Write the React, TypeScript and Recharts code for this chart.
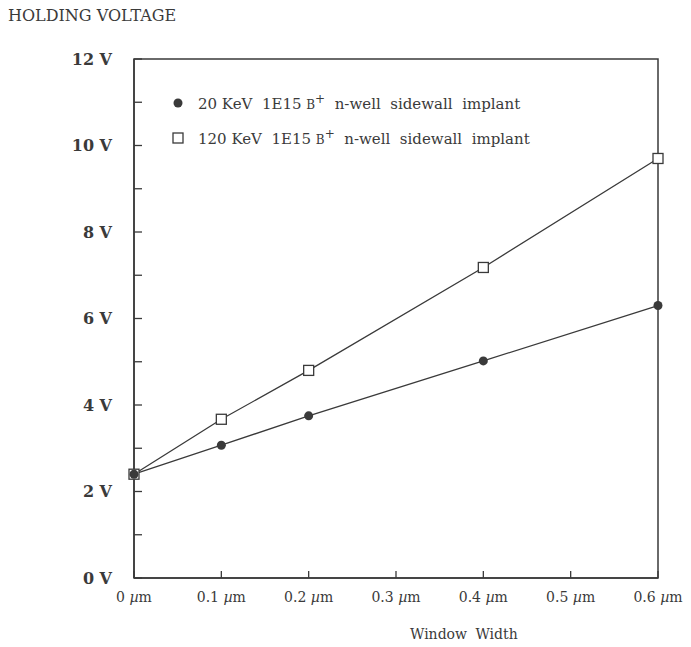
import React from 'react';
import { LineChart, Line, XAxis, YAxis, ReferenceArea } from 'recharts';

// window width in µm
const windowWidth = [0, 0.1, 0.2, 0.4, 0.6];
// holding voltage, 20 KeV implant (filled circles)
const lowEnergy = [2.4, 3.07, 3.75, 5.02, 6.3];
// holding voltage, 120 KeV implant (open squares)
const highEnergy = [2.4, 3.67, 4.8, 7.18, 9.7];

const xTicks = [0, 0.1, 0.2, 0.3, 0.4, 0.5, 0.6];
const yTicks = [0, 1, 2, 3, 4, 5, 6, 7, 8, 9, 10, 11, 12];

const legendItems = [
  { energy: '20 KeV', marker: 'circle' },
  { energy: '120 KeV', marker: 'square' },
];

const data = windowWidth.map((w, i) => ({
  w,
  low: lowEnergy[i],
  high: highEnergy[i],
}));

const INK = '#3a3a3a';
const FONT = '"DejaVu Serif", "Liberation Serif", serif';

const XTick = (props: any) => {
  const { x, y, payload } = props;
  return (
    <text x={x} y={y} dy="0.71em" textAnchor="middle" fontFamily={FONT} fontSize={14} fill={INK}>
      {payload.value} <tspan fontStyle="italic">µ</tspan>m
    </text>
  );
};

const SquareDot = (props: any) => {
  const { cx, cy, index } = props;
  return (
    <rect key={`sq-${index}`} x={cx - 5} y={cy - 5} width={10} height={10} fill="#fff" stroke={INK} strokeWidth={1.3} />
  );
};

const CircleDot = (props: any) => {
  const { cx, cy, index } = props;
  return <circle key={`ci-${index}`} cx={cx} cy={cy} r={4.5} fill={INK} stroke="none" />;
};

// legend kept outside the chart so it doesn't eat into the plot area
const LegendBox = () => (
  <div style={{ position: 'absolute', left: 171, top: 85, fontFamily: FONT, fontSize: 15, color: INK }}>
    {legendItems.map((item) => (
      <div key={item.energy} style={{ display: 'flex', alignItems: 'center', height: 35 }}>
        <svg width={14} height={14} style={{ marginRight: 13 }}>
          {item.marker === 'circle' ? (
            <circle cx={7} cy={7} r={4.5} fill={INK} />
          ) : (
            <rect x={2} y={2} width={10} height={10} fill="#fff" stroke={INK} strokeWidth={1.3} />
          )}
        </svg>
        <span style={{ whiteSpace: 'pre' }}>
          {item.energy}  1E15 <span style={{ fontSize: 12 }}>B</span>
          <sup style={{ fontSize: 12 }}>+</sup>  n-well  sidewall  implant
        </span>
      </div>
    ))}
  </div>
);

export default function App() {
  return (
    <div style={{ position: 'absolute', left: 0, top: 0, width: 691, height: 647, background: '#fff' }}>
      <div style={{ position: 'absolute', left: 8, top: 6, fontFamily: FONT, fontSize: 16, color: INK }}>
        HOLDING VOLTAGE
      </div>
      <div style={{ position: 'absolute', left: 410, top: 626, fontFamily: FONT, fontSize: 14, color: INK, wordSpacing: 4 }}>
        Window Width
      </div>
      <LineChart width={691} height={647} data={data} margin={{ top: 59, right: 33, bottom: 39, left: 74 }}>
        <XAxis
          dataKey="w"
          type="number"
          domain={[0, 0.6]}
          ticks={xTicks}
          interval={0}
          height={30}
          axisLine={{ stroke: INK, strokeWidth: 1.5 }}
          tickLine={{ stroke: INK, strokeWidth: 1.3 }}
          tickSize={-7}
          tickMargin={21}
          tick={<XTick />}
        />
        <YAxis
          type="number"
          domain={[0, 12]}
          ticks={yTicks}
          interval={0}
          width={60}
          axisLine={{ stroke: INK, strokeWidth: 1.5 }}
          tickLine={{ stroke: INK, strokeWidth: 1.3 }}
          tickSize={-8}
          tickMargin={30}
          tickFormatter={(v: number) => (v % 2 === 0 ? `${v} V` : '')}
          tick={{ fontFamily: FONT, fontSize: 16, fontWeight: 'bold', fill: INK }}
        />
        <ReferenceArea x1={0} x2={0.6} y1={0} y2={12} fill="none" stroke={INK} strokeWidth={1.5} ifOverflow="visible" />
        <Line
          dataKey="high"
          type="linear"
          stroke={INK}
          strokeWidth={1.3}
          dot={<SquareDot />}
          activeDot={false}
          isAnimationActive={false}
        />
        <Line
          dataKey="low"
          type="linear"
          stroke={INK}
          strokeWidth={1.3}
          dot={<CircleDot />}
          activeDot={false}
          isAnimationActive={false}
        />
      </LineChart>
      <LegendBox />
    </div>
  );
}
